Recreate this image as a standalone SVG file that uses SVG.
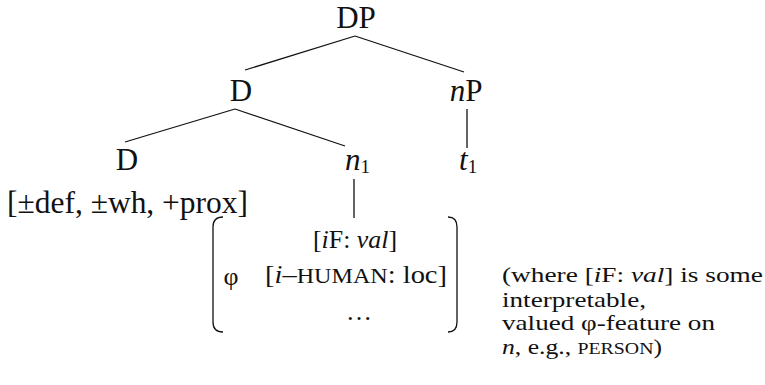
<svg xmlns="http://www.w3.org/2000/svg" width="765" height="385" viewBox="0 0 765 385">
<style>
text{font-family:"Liberation Serif","DejaVu Serif","Noto Serif",serif;fill:#111}
.t{font-size:31px}
.m{font-size:26px}
.sc{font-size:22px}
.n{font-size:22px}
.nsc{font-size:17px}
.i{font-style:italic}
.sub{font-size:19px}
.e{stroke:#111;stroke-width:1.3;fill:none}
</style>
<rect width="765" height="385" fill="#fff"/>
<g id="connectors">
<line class="e" x1="355" y1="36" x2="245" y2="70"/>
<line class="e" x1="355" y1="36" x2="464" y2="72"/>
<line class="e" x1="235" y1="109" x2="125" y2="142"/>
<line class="e" x1="235" y1="109" x2="345" y2="146"/>
<line class="e" x1="467" y1="109" x2="467" y2="148"/>
<line class="e" x1="354" y1="179" x2="354" y2="218"/>
</g>
<g id="DP"><text class="t" x="356" y="28" text-anchor="middle">DP</text></g>
<g id="D1"><text class="t" x="241" y="101" text-anchor="middle">D</text></g>
<g id="nP"><text class="t" x="466" y="101" text-anchor="middle"><tspan class="i">n</tspan>P</text></g>
<g id="D2">
<text class="t" x="127" y="170" text-anchor="middle">D</text>
<text class="t" x="7" y="213" textLength="241" lengthAdjust="spacingAndGlyphs">[±def, ±wh, +prox]</text>
</g>
<g id="n1"><text class="t" x="345" y="170"><tspan class="i">n</tspan><tspan class="sub" dy="3">1</tspan></text></g>
<g id="t1"><text class="t" x="459" y="170"><tspan class="i">t</tspan><tspan class="sub" dy="3">1</tspan></text></g>
<g id="matrix">
<path class="e" d="M223,217 Q213,217 213,227 L213,322 Q213,332 223,332"/>
<path class="e" d="M448,217 Q457,217 457,227 L457,322 Q457,332 448,332"/>
<text class="m" x="231" y="285" text-anchor="middle">φ</text>
<text class="m" x="313" y="248" textLength="84" lengthAdjust="spacingAndGlyphs">[<tspan class="i">i</tspan>F: <tspan class="i">val</tspan>]</text>
<text class="m" x="265" y="283" textLength="182" lengthAdjust="spacingAndGlyphs">[<tspan class="i">i</tspan>–<tspan class="sc">HUMAN</tspan>: loc]</text>
<text class="m" x="359" y="320" text-anchor="middle">…</text>
</g>
<g id="note">
<text class="n" x="502" y="282" textLength="261" lengthAdjust="spacingAndGlyphs">(where [<tspan class="i">i</tspan>F: <tspan class="i">val</tspan>] is some</text>
<text class="n" x="502" y="307" textLength="144" lengthAdjust="spacingAndGlyphs">interpretable,</text>
<text class="n" x="502" y="330" textLength="213" lengthAdjust="spacingAndGlyphs">valued φ-feature on</text>
<text class="n" x="502" y="354" textLength="160" lengthAdjust="spacingAndGlyphs"><tspan class="i">n</tspan>, e.g., <tspan class="nsc">PERSON</tspan>)</text>
</g>
</svg>
